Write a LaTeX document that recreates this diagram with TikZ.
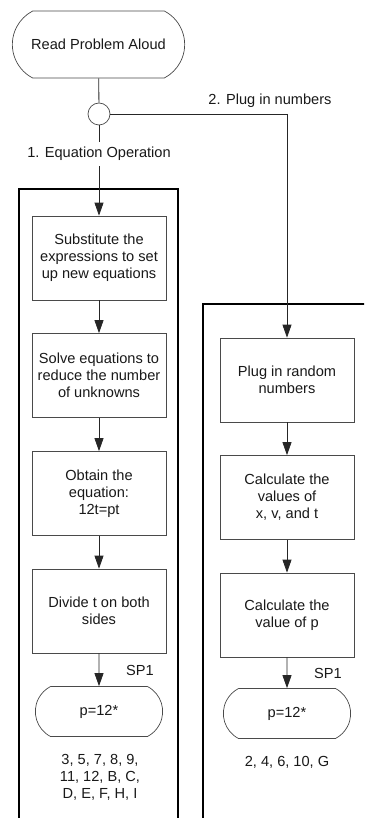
\documentclass[tikz,border=0pt]{standalone}
\usepackage{fontspec}
\setmainfont{Liberation Sans}
\usetikzlibrary{arrows.meta, shapes.misc, positioning}
\definecolor{lineGray}{HTML}{262626}
\definecolor{boxGray}{HTML}{4A4A4A}
\tikzset{
    stepBox/.style={rectangle, draw=boxGray, line width=0.7pt, fill=white, minimum width=134pt, minimum height=84pt, align=center, inner sep=2pt},
    endBox/.style={rounded rectangle, rounded rectangle arc length=125, draw=boxGray, line width=0.7pt, fill=white, minimum width=134pt, minimum height=50pt},
    startBox/.style={rounded rectangle, rounded rectangle arc length=125, draw=boxGray, line width=0.7pt, fill=white, minimum width=179pt, minimum height=67pt},
    junction/.style={circle, draw=boxGray, line width=0.7pt, fill=white, inner sep=0pt, minimum size=22pt},
    flowLabel/.style={fill=white, inner sep=5pt, align=center},
    flowEdge/.style={-{Triangle[length=13pt, width=9pt]}, draw=lineGray, line width=0.8pt},
    flowLine/.style={draw=lineGray, line width=0.8pt},
    frameBox/.style={draw=black, line width=1.8pt},
}
\newcommand{\drawFlow}[2]{
    \draw[flowEdge] (#1) -- (#2);
}
\newcommand{\drawLine}[2]{
    \draw[flowLine] (#1) -- (#2);
}

\begin{document}
\begin{tikzpicture}[x=1pt, y=-1pt, font=\fontsize{14.6}{17}\selectfont, text=black!90]
        \useasboundingbox (0,0) rectangle (364,818);
        \clip (0,0) rectangle (364,818);

        % frames
        \draw[frameBox] (19,189) rectangle (178,840);
        \draw[frameBox] (203,304) rectangle (390,840);

        % top
        \node[startBox] (read) at (98.5,44.5) {Read Problem Aloud};
        \node[junction] (junc) at (99,114) {};
        \node[flowLabel] (eqOp) at (99,154) {1. Equation Operation};
        \node (plugLbl) at (270,101) {2. Plug in numbers};
        \coordinate (bend) at (287,114);

        % equation operation
        \node[stepBox] (subst) at (99,258) {Substitute the\\expressions to set\\up new equations};
        \node[stepBox] (solve) at (99,375.5) {Solve equations to\\reduce the number\\of unknowns};
        \node[stepBox] (obtain) at (99,493.5) {Obtain the\\equation:\\12t=pt};
        \node[stepBox] (divide) at (99,611) {Divide t on both\\sides};
        \node[endBox] (resL) at (99,711.5) {p=12*};
        \node (spL) at (140,670) {SP1};
        \node[align=center] (listL) at (100,777) {3, 5, 7, 8, 9,\\11, 12, B, C,\\D, E, F, H, I};

        % plug in numbers
        \node[stepBox] (plug) at (287,380) {Plug in random\\numbers};
        \node[stepBox] (calcX) at (287,497.5) {Calculate the\\values of\\x, v, and t};
        \node[stepBox] (calcP) at (287,615) {Calculate the\\value of p};
        \node[endBox] (resR) at (287,713.5) {p=12*};
        \node (spR) at (328,673) {SP1};
        \node (listR) at (287,762) {2, 4, 6, 10, G};

        % connectors
        \drawLine{read}{junc}
        \drawLine{junc}{eqOp}
        \drawFlow{eqOp}{subst}
        \drawFlow{subst}{solve}
        \drawFlow{solve}{obtain}
        \drawFlow{obtain}{divide}
        \drawFlow{divide}{resL}
        \drawLine{junc}{bend}
        \drawFlow{bend}{plug}
        \drawFlow{plug}{calcX}
        \drawFlow{calcX}{calcP}
        \drawFlow{calcP}{resR}
    \end{tikzpicture}
\end{document}
